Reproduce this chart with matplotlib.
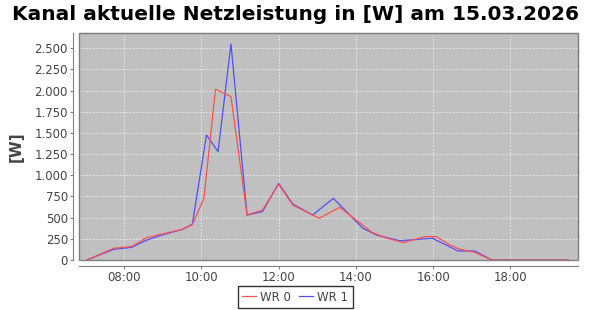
import matplotlib
matplotlib.use("Agg")
import matplotlib.pyplot as plt
import matplotlib.dates as mdates
from matplotlib.patches import Rectangle
from matplotlib.ticker import FuncFormatter
import pandas as pd

title = "Kanal aktuelle Netzleistung in [W] am 15.03.2026"
date = "2026-03-15"
ylabel = "[W]"

wr0_times = ["07:02", "07:44", "08:12", "08:35", "09:01", "09:30", "09:46", "10:04",
             "10:22", "10:46", "11:11", "11:35", "12:00", "12:22", "13:03", "13:35",
             "14:25", "14:47", "15:14", "15:47", "16:05", "16:26", "16:42", "17:05",
             "17:31", "19:30"]
wr0_values = [0, 138, 160, 264, 310, 360, 415, 728,
              2016, 1929, 531, 590, 895, 650, 492, 622,
              327, 260, 205, 276, 276, 177, 126, 90,
              0, 0]

wr1_times = ["07:02", "07:44", "08:12", "08:35", "09:01", "09:30", "09:46", "10:08",
             "10:26", "10:46", "11:11", "11:35", "12:00", "12:22", "12:53", "13:25",
             "14:11", "14:32", "15:08", "15:59", "16:39", "17:05", "17:31", "19:30"]
wr1_values = [0, 126, 150, 235, 300, 360, 421, 1476,
              1280, 2551, 531, 571, 905, 661, 531, 728,
              374, 295, 228, 256, 106, 106, 0, 0]

series_names = ["WR 0", "WR 1"]
yticks = [0, 250, 500, 750, 1000, 1250, 1500, 1750, 2000, 2250, 2500]

def to_dt(ts):
    return pd.to_datetime([f"{date} {t}" for t in ts])

fig = plt.figure(figsize=(5.9, 3.1), dpi=100)
fig.patch.set_facecolor("white")
L, R, B, T = 79/590, 578/590, 1-260/310, 1-33/310
ax = fig.add_axes([L, B, R-L, T-B])
ax.set_facecolor("#c0c0c0")

red = "#ff4f4f"
blue = "#5050ff"
l1, = ax.plot(to_dt(wr1_times), wr1_values, color=blue, lw=0.9, zorder=3)
l0, = ax.plot(to_dt(wr0_times), wr0_values, color=red, lw=0.9, zorder=4)

ax.set_xlim(pd.Timestamp(f"{date} 06:50"), pd.Timestamp(f"{date} 19:45"))
ax.set_ylim(0, 2680)
ax.set_yticks(yticks)
ax.yaxis.set_major_formatter(FuncFormatter(lambda v, p: f"{int(v):,}".replace(",", ".")))
ax.xaxis.set_major_locator(mdates.HourLocator(byhour=range(0, 24, 2)))
ax.xaxis.set_major_formatter(mdates.DateFormatter("%H:%M"))

ax.grid(True, color="#f0f0f0", lw=0.6, linestyle=(0, (2, 2)))
ax.set_axisbelow(True)

for s in ["top", "right"]:
    ax.spines[s].set_color("#808080")
for s in ["left", "bottom"]:
    ax.spines[s].set_position(("outward", 4))
    ax.spines[s].set_color("#808080")
ax.tick_params(axis="both", colors="#808080", length=2, width=0.8, labelcolor="#444444",
               labelsize=8.5, pad=2)
ax.add_patch(Rectangle((0, 0), 1, 1, transform=ax.transAxes, fill=False,
                       edgecolor="#808080", lw=1, zorder=5, clip_on=False))

ax.set_ylabel(ylabel, fontsize=11, fontweight="bold", color="#444444", labelpad=8)
fig.text(0.5, 0.985, title, ha="center", va="top", fontsize=14.5, fontweight="bold")

leg = fig.legend([l0, l1], series_names, loc="lower center", bbox_to_anchor=(0.5, 0.0),
                 ncol=2, frameon=True, fancybox=False, fontsize=8.5, handlelength=1.2,
                 handletextpad=0.35, columnspacing=0.7, borderpad=0.35, borderaxespad=0.2)
leg.get_frame().set_edgecolor("black")
leg.get_frame().set_linewidth(1.0)
for t in leg.get_texts():
    t.set_color("#444444")

fig.savefig("out.png", dpi=100)
